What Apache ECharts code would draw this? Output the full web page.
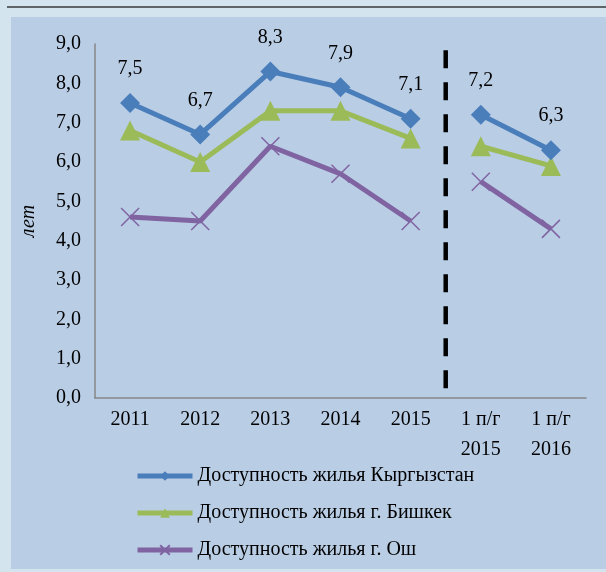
<!DOCTYPE html>
<html>
<head>
<meta charset="utf-8">
<script src="https://cdn.jsdelivr.net/npm/echarts@6/dist/echarts.min.js"></script>
<style>
  html, body { margin: 0; padding: 0; background: #d3e4ef; }
  #main { width: 606px; height: 572px; }
</style>
</head>
<body>
<div id="main"></div>
<script>
// категории и значения (лет)
var categories = ['2011', '2012', '2013', '2014', '2015', '1 п/г\n2015', '1 п/г\n2016'];
var kyrgyzstan = [7.5, 6.7, 8.3, 7.9, 7.1, 7.2, 6.3];
var bishkek = [6.8, 6.0, 7.3, 7.3, 6.6, 6.4, 5.9];
var osh = [4.6, 4.5, 6.4, 5.7, 4.5, 5.5, 4.3];
var yTicks = [0, 1, 2, 3, 4, 5, 6, 7, 8, 9];
// граница между годами и полугодиями
var dividerAt = 4.5;
var dividerRange = [0.25, 9];
var splitIndex = 5;

var names = ['Доступность жилья Кыргызстан', 'Доступность жилья г. Бишкек', 'Доступность жилья г. Ош'];
var colors = ['#4a7ebb', '#9bbb59', '#8064a2'];
var crossPath = 'path://M0,0L10,10M10,0L0,10';
var symbols = ['diamond', 'triangle', crossPath];
var symbolSizes = [20, 20, 18];
var font = '"Liberation Serif", "Times New Roman", serif';

function part(arr, first) {
  return arr.map(function (v, i) {
    return (first ? i < splitIndex : i >= splitIndex) ? v : '-';
  });
}

function comma(v) {
  return v.toFixed(1).replace('.', ',');
}

var series = [];
[kyrgyzstan, bishkek, osh].forEach(function (arr, k) {
  [true, false].forEach(function (first) {
    series.push({
      name: names[k],
      type: 'line',
      data: part(arr, first),
      symbol: symbols[k],
      symbolSize: symbolSizes[k],
      lineStyle: { color: colors[k], width: 5 },
      itemStyle: k === 2
        ? { color: colors[k], borderColor: colors[k], borderWidth: 1.5 }
        : { color: colors[k] },
      label: {
        show: k === 0,
        position: 'top',
        distance: 14,
        fontFamily: font,
        fontSize: 20,
        color: '#000',
        formatter: function (p) { return comma(p.value); }
      },
      emphasis: { disabled: true },
      animation: false,
      z: 3 - k
    });
  });
});

series.push({
  name: 'divider',
  type: 'line',
  xAxisIndex: 1,
  data: [[dividerAt, dividerRange[0]], [dividerAt, dividerRange[1]]],
  symbol: 'none',
  lineStyle: { color: '#000', width: 4.5, type: [18, 14] },
  silent: true,
  animation: false
});

var chart = echarts.init(document.getElementById('main'));
chart.setOption({
  backgroundColor: '#d3e4ef',
  graphic: [
    { type: 'rect', shape: { x: 11, y: 17, width: 595, height: 552 }, style: { fill: '#b9cde5' }, z: -10 },
    { type: 'rect', shape: { x: 7, y: 6, width: 599, height: 2 }, style: { fill: '#5f6468' }, z: -10 }
  ],
  grid: { left: 95, right: 20, top: 44, bottom: 174 },
  legend: {
    data: names,
    orient: 'vertical',
    left: 130,
    top: 461,
    itemWidth: 55,
    itemHeight: 12,
    itemGap: 17,
    lineStyle: { width: 5 },
    textStyle: { fontFamily: font, fontSize: 20, color: '#000' }
  },
  xAxis: [{
    type: 'category',
    data: categories,
    boundaryGap: true,
    axisLine: { onZero: false, lineStyle: { color: '#868686', width: 1.5 } },
    axisTick: { show: false },
    axisLabel: { fontFamily: font, fontSize: 20, color: '#000', margin: 7, lineHeight: 30, interval: 0 }
  }, {
    type: 'value',
    min: -0.5,
    max: 6.5,
    show: false
  }],
  yAxis: {
    type: 'value',
    min: 0,
    max: 9,
    interval: 1,
    name: 'лет',
    nameLocation: 'middle',
    nameGap: 56,
    nameRotate: 90,
    nameTextStyle: { fontFamily: font, fontSize: 20, fontStyle: 'italic', color: '#000' },
    axisLine: { show: true, onZero: false, lineStyle: { color: '#868686', width: 1.5 } },
    axisTick: { show: false },
    splitLine: { show: false },
    axisLabel: {
      fontFamily: font, fontSize: 20, color: '#000', margin: 14,
      formatter: function (v) { return yTicks.indexOf(v) >= 0 ? comma(v) : ''; }
    }
  },
  series: series
});
</script>
</body>
</html>
